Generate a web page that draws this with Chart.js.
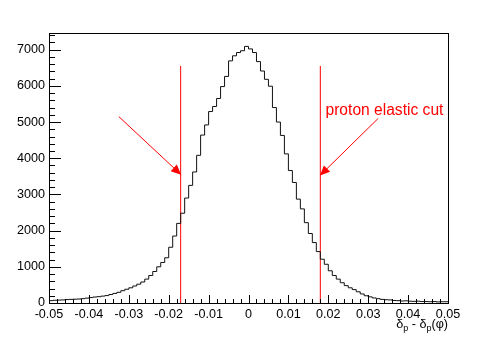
<!DOCTYPE html>
<html lang="en">
<head>
    <meta charset="UTF-8">
    <title>proton elastic cut</title>
    <script src="https://cdn.jsdelivr.net/npm/chart.js"></script>
    <style>
        body { margin: 0; background: #fff; }
        canvas { display: block; }
    </style>
</head>
<body>
    <canvas id="histo" width="498" height="338"></canvas>

    <script>
        // histogram: 100 bins from -0.05 to 0.05
        const xMin = -0.05;
        const xMax = 0.05;
        const nBins = 100;
        const counts = [
            55, 65, 75, 80, 85, 95, 100, 105, 110, 120,
            135, 150, 165, 175, 190, 205, 235, 265, 295, 340,
            380, 420, 470, 520, 580, 660, 760, 870, 1000, 1120,
            1250, 1540, 1850, 2200, 2480, 2900, 3250, 3620, 4080, 4640,
            4920, 5290, 5430, 5650, 5980, 6260, 6690, 6830, 6920, 6970,
            7090, 7020, 6920, 6670, 6410, 6180, 5990, 5400, 5000, 4630,
            4120, 3660, 3330, 2870, 2600, 2220, 1920, 1670, 1420, 1210,
            1070, 890, 760, 660, 560, 480, 420, 370, 310, 250,
            200, 170, 140, 120, 100, 90, 85, 70, 65, 55,
            60, 50, 45, 50, 40, 40, 35, 40, 30, 35
        ];
        const yMax = 7460;

        // cut lines and arrows (data coordinates)
        const cutX = [-0.017, 0.018];
        const cutTop = 6550;
        const arrowFrom = [[-0.0325, 5150], [0.0325, 5100]];
        const arrowTo = [[-0.0169, 3545], [0.0179, 3520]];
        const cutLabel = 'proton elastic cut';
        const cutLabelPos = [0.0193, 5200];

        // axis ticks
        const xTicks = [-0.05, -0.04, -0.03, -0.02, -0.01, 0, 0.01, 0.02, 0.03, 0.04, 0.05];
        const xTickLabels = ['-0.05', '-0.04', '-0.03', '-0.02', '-0.01', '0', '0.01', '0.02', '0.03', '0.04', '0.05'];
        const yTicks = [0, 1000, 2000, 3000, 4000, 5000, 6000, 7000];

        const binW = (xMax - xMin) / nBins;
        const histPoints = counts.map((c, i) => ({ x: xMin + i * binW, y: c }));
        histPoints.push({ x: xMax, y: counts[counts.length - 1] });

        const FONT = 'Liberation Sans, Arial, sans-serif';

        // ROOT style frame, inward ticks, labels, arrows
        const rootFrame = {
            id: 'rootFrame',
            afterDraw(chart) {
                const c = chart.ctx;
                const a = chart.chartArea;
                const sx = chart.scales.x;
                const sy = chart.scales.y;
                c.save();
                c.strokeStyle = '#000';
                c.lineWidth = 1;
                c.strokeRect(a.left + 0.5, a.top + 0.5, a.right - a.left, a.bottom - a.top);

                // x ticks
                c.beginPath();
                for (let k = 0; k <= 50; k++) {
                    const v = xMin + k * 0.002;
                    const px = Math.round(sx.getPixelForValue(v)) + 0.5;
                    const len = (k % 5 === 0) ? 8 : 4;
                    c.moveTo(px, a.bottom);
                    c.lineTo(px, a.bottom - len);
                }
                // y ticks
                for (let v = 0; v <= yMax; v += 200) {
                    const py = Math.round(sy.getPixelForValue(v)) + 0.5;
                    const len = (v % 1000 === 0) ? 12 : 6;
                    c.moveTo(a.left, py);
                    c.lineTo(a.left + len, py);
                }
                c.stroke();

                c.fillStyle = '#000';
                c.font = '12.6px ' + FONT;
                c.textAlign = 'center';
                c.textBaseline = 'alphabetic';
                xTicks.forEach((v, i) => {
                    c.fillText(xTickLabels[i], sx.getPixelForValue(v), a.bottom + 15);
                });
                c.textAlign = 'right';
                c.textBaseline = 'middle';
                yTicks.forEach(v => {
                    c.fillText(String(v), a.left - 4, sy.getPixelForValue(v));
                });

                // axis title: δp - δp(φ), drawn right aligned with subscripts
                const parts = [['δ', 0], ['p', 1], [' - δ', 0], ['p', 1], ['(φ)', 0]];
                const big = '12.6px ' + FONT, small = '9px ' + FONT;
                let w = 0;
                parts.forEach(p => { c.font = p[1] ? small : big; w += c.measureText(p[0]).width; });
                let tx = a.right - w;
                const base = a.bottom + 25;
                c.textAlign = 'left';
                c.textBaseline = 'alphabetic';
                parts.forEach(p => {
                    c.font = p[1] ? small : big;
                    c.fillText(p[0], tx, p[1] ? base + 3 : base);
                    tx += c.measureText(p[0]).width;
                });

                // arrows
                c.strokeStyle = '#ff0000';
                c.fillStyle = '#ff0000';
                arrowFrom.forEach((f, i) => {
                    const x0 = sx.getPixelForValue(f[0]), y0 = sy.getPixelForValue(f[1]);
                    const x1 = sx.getPixelForValue(arrowTo[i][0]), y1 = sy.getPixelForValue(arrowTo[i][1]);
                    const ang = Math.atan2(y1 - y0, x1 - x0);
                    c.beginPath();
                    c.moveTo(x0, y0);
                    c.lineTo(x1, y1);
                    c.stroke();
                    const L = 10, H = 4.5;
                    c.beginPath();
                    c.moveTo(x1, y1);
                    c.lineTo(x1 - L * Math.cos(ang) + H * Math.sin(ang), y1 - L * Math.sin(ang) - H * Math.cos(ang));
                    c.lineTo(x1 - L * Math.cos(ang) - H * Math.sin(ang), y1 - L * Math.sin(ang) + H * Math.cos(ang));
                    c.closePath();
                    c.fill();
                });

                c.font = '15.6px ' + FONT;
                c.textAlign = 'left';
                c.fillText(cutLabel, sx.getPixelForValue(cutLabelPos[0]), sy.getPixelForValue(cutLabelPos[1]));
                c.restore();
            }
        };

        const cutSets = cutX.map(x => ({
            data: [{ x: x, y: 0 }, { x: x, y: cutTop }],
            borderColor: '#ff0000',
            borderWidth: 1,
            pointRadius: 0
        }));

        new Chart(document.getElementById('histo').getContext('2d'), {
            type: 'line',
            data: {
                datasets: [{
                    data: histPoints,
                    stepped: 'after',
                    borderColor: '#111',
                    borderWidth: 1,
                    pointRadius: 0,
                    fill: false
                }, ...cutSets]
            },
            options: {
                responsive: false,
                animation: false,
                layout: { padding: { left: 49, right: 50, top: 33, bottom: 35 } },
                plugins: { legend: { display: false }, tooltip: { enabled: false } },
                scales: {
                    x: { type: 'linear', min: xMin, max: xMax, display: false },
                    y: { min: 0, max: yMax, display: false }
                }
            },
            plugins: [rootFrame]
        });
    </script>
</body>
</html>
